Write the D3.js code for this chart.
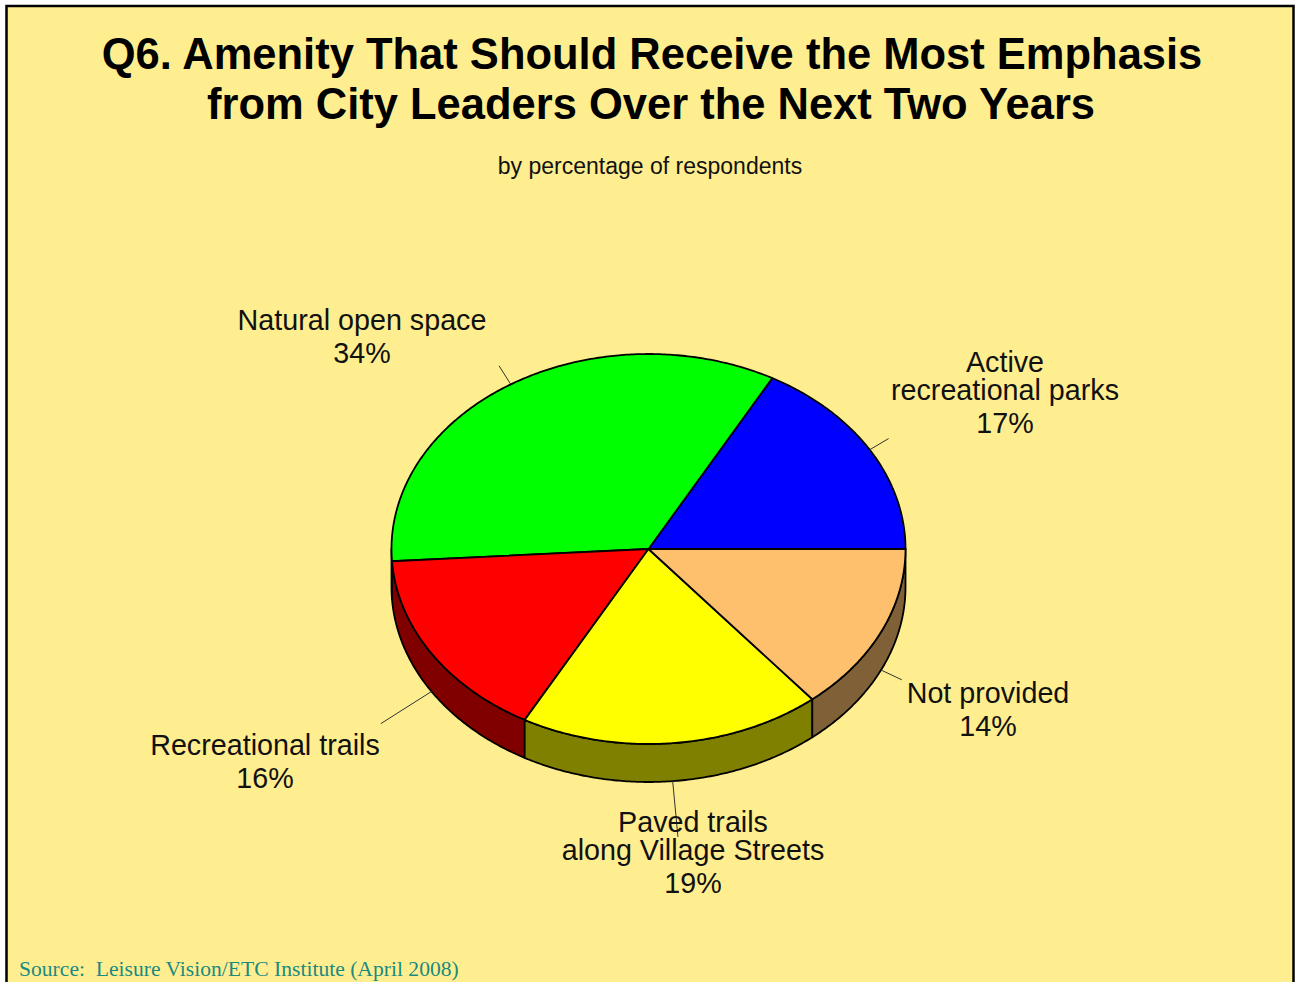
<!DOCTYPE html>
<meta charset="utf-8" />
<script src="https://d3js.org/d3.v7.js"></script>
<style>
  body { margin: 0; background: #ffffff; }
  text { font-family: "Liberation Sans", Arial, sans-serif; }
</style>
<div id="my_dataviz"></div>
<script>
  // data
  const categories = [
    ["Active", "recreational parks"],
    ["Natural open space"],
    ["Recreational trails"],
    ["Paved trails", "along Village Streets"],
    ["Not provided"]
  ];
  const values = [17, 34, 16, 19, 14];
  const colors = ["#0000ff", "#00ff00", "#ff0000", "#ffff00", "#ffc06e"];

  // label layout (center x, first baseline) and leader line lengths
  const labelX = [1005, 362, 265, 693, 988];
  const labelY = [372, 330, 755, 832, 703];
  const leaderLen = [22, 22, 60, 56, 23];

  const width = 1299, height = 982;
  const cx = 648.5, cy = 549, rx = 257, ry = 195, depth = 38;

  const svg = d3
    .select("#my_dataviz")
    .append("svg")
    .attr("width", width)
    .attr("height", height);

  // frame
  svg
    .append("rect")
    .attr("x", 6.5)
    .attr("y", 6)
    .attr("width", 1287)
    .attr("height", 1000)
    .attr("fill", "#ffee8f")
    .attr("stroke", "#000")
    .attr("stroke-width", 2.5);

  // titles
  const title = svg
    .append("text")
    .attr("text-anchor", "middle")
    .style("font-size", "43.5px")
    .style("font-weight", "bold")
    .style("fill", "#000");
  title.append("tspan").attr("x", 652).attr("y", 69).text("Q6. Amenity That Should Receive the Most Emphasis");
  title.append("tspan").attr("x", 651).attr("y", 119).text("from City Leaders Over the Next Two Years");

  svg
    .append("text")
    .attr("text-anchor", "middle")
    .attr("x", 650)
    .attr("y", 174)
    .style("font-size", "23px")
    .style("fill", "#111")
    .text("by percentage of respondents");

  svg
    .append("text")
    .attr("x", 19)
    .attr("y", 976)
    .attr("xml:space", "preserve")
    .style("white-space", "pre")
    .style("font-family", "'Liberation Serif', 'Times New Roman', serif")
    .style("font-size", "21.6px")
    .style("fill", "#1a8a80")
    .text("Source:  Leisure Vision/ETC Institute (April 2008)");

  // pie layout, angles counterclockwise from 3 o'clock
  const pie = d3.pie().sort(null).startAngle(0).endAngle(2 * Math.PI);
  const arcs = pie(values);

  const px = (t) => cx + rx * Math.cos(t);
  const py = (t) => cy - ry * Math.sin(t);
  const line = d3.line();

  function arcPoints(t0, t1, dy) {
    const n = Math.max(2, Math.ceil((t1 - t0) / 0.01));
    const pts = [];
    for (let i = 0; i <= n; i++) {
      const t = t0 + ((t1 - t0) * i) / n;
      pts.push([px(t), py(t) + dy]);
    }
    return pts;
  }

  function darken(c) {
    const k = d3.rgb(c);
    return d3.rgb(k.r * 0.5, k.g * 0.5, k.b * 0.5).formatHex();
  }

  // side walls (front half only)
  const sides = svg.append("g").attr("class", "sides");
  arcs.forEach(function (d, i) {
    const t0 = Math.max(d.startAngle, Math.PI);
    const t1 = Math.min(d.endAngle, 2 * Math.PI);
    if (t1 <= t0) return;
    const top = arcPoints(t0, t1, 0);
    const bottom = arcPoints(t0, t1, depth).reverse();
    sides
      .append("path")
      .attr("d", line(top.concat(bottom)) + "Z")
      .attr("fill", darken(colors[i]))
      .attr("stroke", "#000")
      .attr("stroke-width", 1.8)
      .attr("stroke-linejoin", "round");
  });

  // top faces
  const tops = svg.append("g").attr("class", "tops");
  arcs.forEach(function (d, i) {
    const pts = [[cx, cy]].concat(arcPoints(d.startAngle, d.endAngle, 0));
    tops
      .append("path")
      .attr("d", line(pts) + "Z")
      .attr("fill", colors[i])
      .attr("stroke", "#000")
      .attr("stroke-width", 1.8)
      .attr("stroke-linejoin", "round");
  });

  // leader lines
  const leaders = svg.append("g").attr("class", "leaders");
  arcs.forEach(function (d, i) {
    const t = (d.startAngle + d.endAngle) / 2;
    const x0 = px(t);
    const y0 = py(t) + (Math.sin(t) < 0 ? depth : 0);
    leaders
      .append("line")
      .attr("x1", x0)
      .attr("y1", y0)
      .attr("x2", x0 + leaderLen[i] * Math.cos(t))
      .attr("y2", y0 - leaderLen[i] * Math.sin(t))
      .attr("stroke", "#333")
      .attr("stroke-width", 1);
  });

  // labels
  const labels = svg.append("g").attr("class", "labels");
  categories.forEach(function (lines, i) {
    const txt = labels
      .append("text")
      .attr("text-anchor", "middle")
      .style("font-size", "28.7px")
      .style("fill", "#111");
    lines.forEach(function (s, j) {
      txt.append("tspan").attr("x", labelX[i]).attr("y", labelY[i] + j * 28).text(s);
    });
    txt
      .append("tspan")
      .attr("x", labelX[i])
      .attr("y", labelY[i] + (lines.length - 1) * 28 + 32.5)
      .text(values[i] + "%");
  });
</script>
